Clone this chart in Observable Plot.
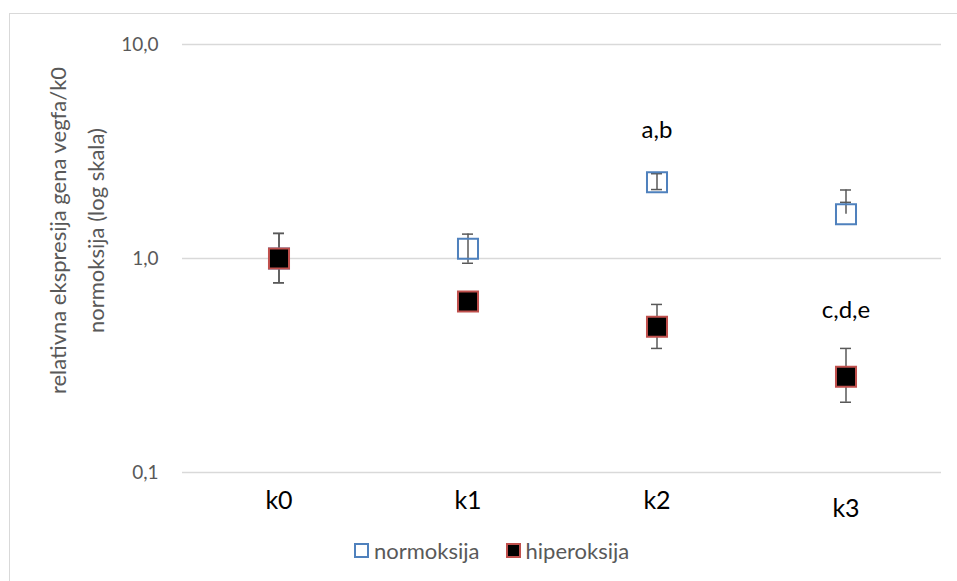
<!DOCTYPE html>
<html>
<head>
<meta charset="utf-8">
<script src="https://cdn.jsdelivr.net/npm/d3@7"></script>
<script src="https://cdn.jsdelivr.net/npm/@observablehq/plot@0.6"></script>
<style>
  html, body { margin: 0; padding: 0; background: white; }
  body { width: 957px; height: 581px; overflow: hidden; position: relative; font-family: Lato, "Open Sans", sans-serif; }
  #frame { position: absolute; left: 9px; top: 13px; width: 980px; height: 620px; border: 1px solid #d9d9d9; pointer-events: none; }
  #legend { height: 30px; display: flex; align-items: center; font-size: 22px; color: #595959; padding-left: 354px; }
  .sw { display: inline-block; width: 11px; height: 11px; box-sizing: content-box; margin-right: 5px; }
  .item { display: flex; align-items: center; margin-right: 26px; }
</style>
</head>
<body>
<div id="chart"></div>
<div id="legend"></div>
<div id="frame"></div>
<script>
const categories = ["k0", "k1", "k2", "k3"];
const seriesNames = ["normoksija", "hiperoksija"];
const normoksija   = [1.00, 1.11, 2.27, 1.61];
const normoksijaLo = [0.77, 0.95, 2.10, 1.83];
const normoksijaHi = [1.31, 1.30, 2.49, 2.09];
const hiperoksija   = [1.00, 0.63, 0.48, 0.28];
const hiperoksijaLo = [0.77, 0.58, 0.38, 0.213];
const hiperoksijaHi = [1.31, 0.68, 0.61, 0.38];
const yTicks = [0.1, 1, 10];
const annotationText = ["a,b", "c,d,e"];
const annotationCat = ["k2", "k3"];
const annotationY = [3.96, 0.571];
const yLabel = "relativna ekspresija gena vegfa/k0\nnormoksija (log skala)";

const colors = { normoksija: "#4F81BD", hiperoksija: "#C0504D" };

const rows = [];
categories.forEach((c, i) => {
  rows.push({ cat: c, series: "normoksija", v: normoksija[i], lo: normoksijaLo[i], hi: normoksijaHi[i] });
});
categories.forEach((c, i) => {
  rows.push({ cat: c, series: "hiperoksija", v: hiperoksija[i], lo: hiperoksijaLo[i], hi: hiperoksijaHi[i] });
});
const normRows = rows.filter(d => d.series === "normoksija");
const hypRows = rows.filter(d => d.series === "hiperoksija");
const annRows = annotationText.map((t, i) => ({ text: t, cat: annotationCat[i], y: annotationY[i] }));

const fmt = d => d.toFixed(1).replace(".", ",");
const capInset = 89;
const errColor = "#595959";

const chart = Plot.plot({
  width: 957,
  height: 535,
  marginLeft: 182,
  marginRight: 16,
  marginTop: 44,
  marginBottom: 63,
  style: { fontFamily: "Lato, 'Open Sans', sans-serif", background: "transparent", overflow: "visible" },
  x: { type: "band", domain: categories, padding: 0, label: null },
  y: { type: "log", domain: [0.1, 10], label: null },
  marks: [
    Plot.gridY(yTicks, { stroke: "#d9d9d9", strokeOpacity: 1, strokeWidth: 1.5 }),
    Plot.axisY({ ticks: yTicks, tickSize: 0, tickPadding: 24, tickFormat: fmt, fontSize: 19, color: "#595959", label: null }),
    Plot.axisX({ ticks: categories.slice(0, 3), tickSize: 0, tickPadding: 19, fontSize: 25, fill: "black", label: null }),
    Plot.axisX({ ticks: categories.slice(3), tickSize: 0, tickPadding: 27, fontSize: 25, fill: "black", label: null }),
    Plot.ruleX(rows, { x: "cat", y1: d => Math.min(d.lo, d.v), y2: d => Math.max(d.hi, d.v), stroke: errColor, strokeWidth: 1.5 }),
    Plot.tickY(rows, { x: "cat", y: "lo", stroke: errColor, strokeWidth: 1.5, insetLeft: capInset, insetRight: capInset }),
    Plot.tickY(rows, { x: "cat", y: "hi", stroke: errColor, strokeWidth: 1.5, insetLeft: capInset, insetRight: capInset }),
    Plot.dot(normRows, { x: "cat", y: "v", symbol: "square", r: 11.3, fill: "none", stroke: colors.normoksija, strokeWidth: 2 }),
    Plot.dot(hypRows, { x: "cat", y: "v", symbol: "square", r: 11.3, fill: "black", stroke: colors.hiperoksija, strokeWidth: 2 }),
    Plot.text(annRows, { x: "cat", y: "y", text: "text", fontSize: 24, fill: "black" }),
    Plot.text([yLabel], { frameAnchor: "left", textAnchor: "middle", lineAnchor: "middle", dx: -110, dy: -28, rotate: -90, fontSize: 22, lineHeight: 1.75, fill: "#595959" })
  ]
});
document.getElementById("chart").appendChild(chart);

const legend = document.getElementById("legend");
seriesNames.forEach(name => {
  const item = document.createElement("span");
  item.className = "item";
  const sw = document.createElement("span");
  sw.className = "sw";
  sw.style.border = "2px solid " + colors[name];
  sw.style.background = name === "hiperoksija" ? "black" : "white";
  item.appendChild(sw);
  item.appendChild(document.createTextNode(name));
  legend.appendChild(item);
});
</script>
</body>
</html>
